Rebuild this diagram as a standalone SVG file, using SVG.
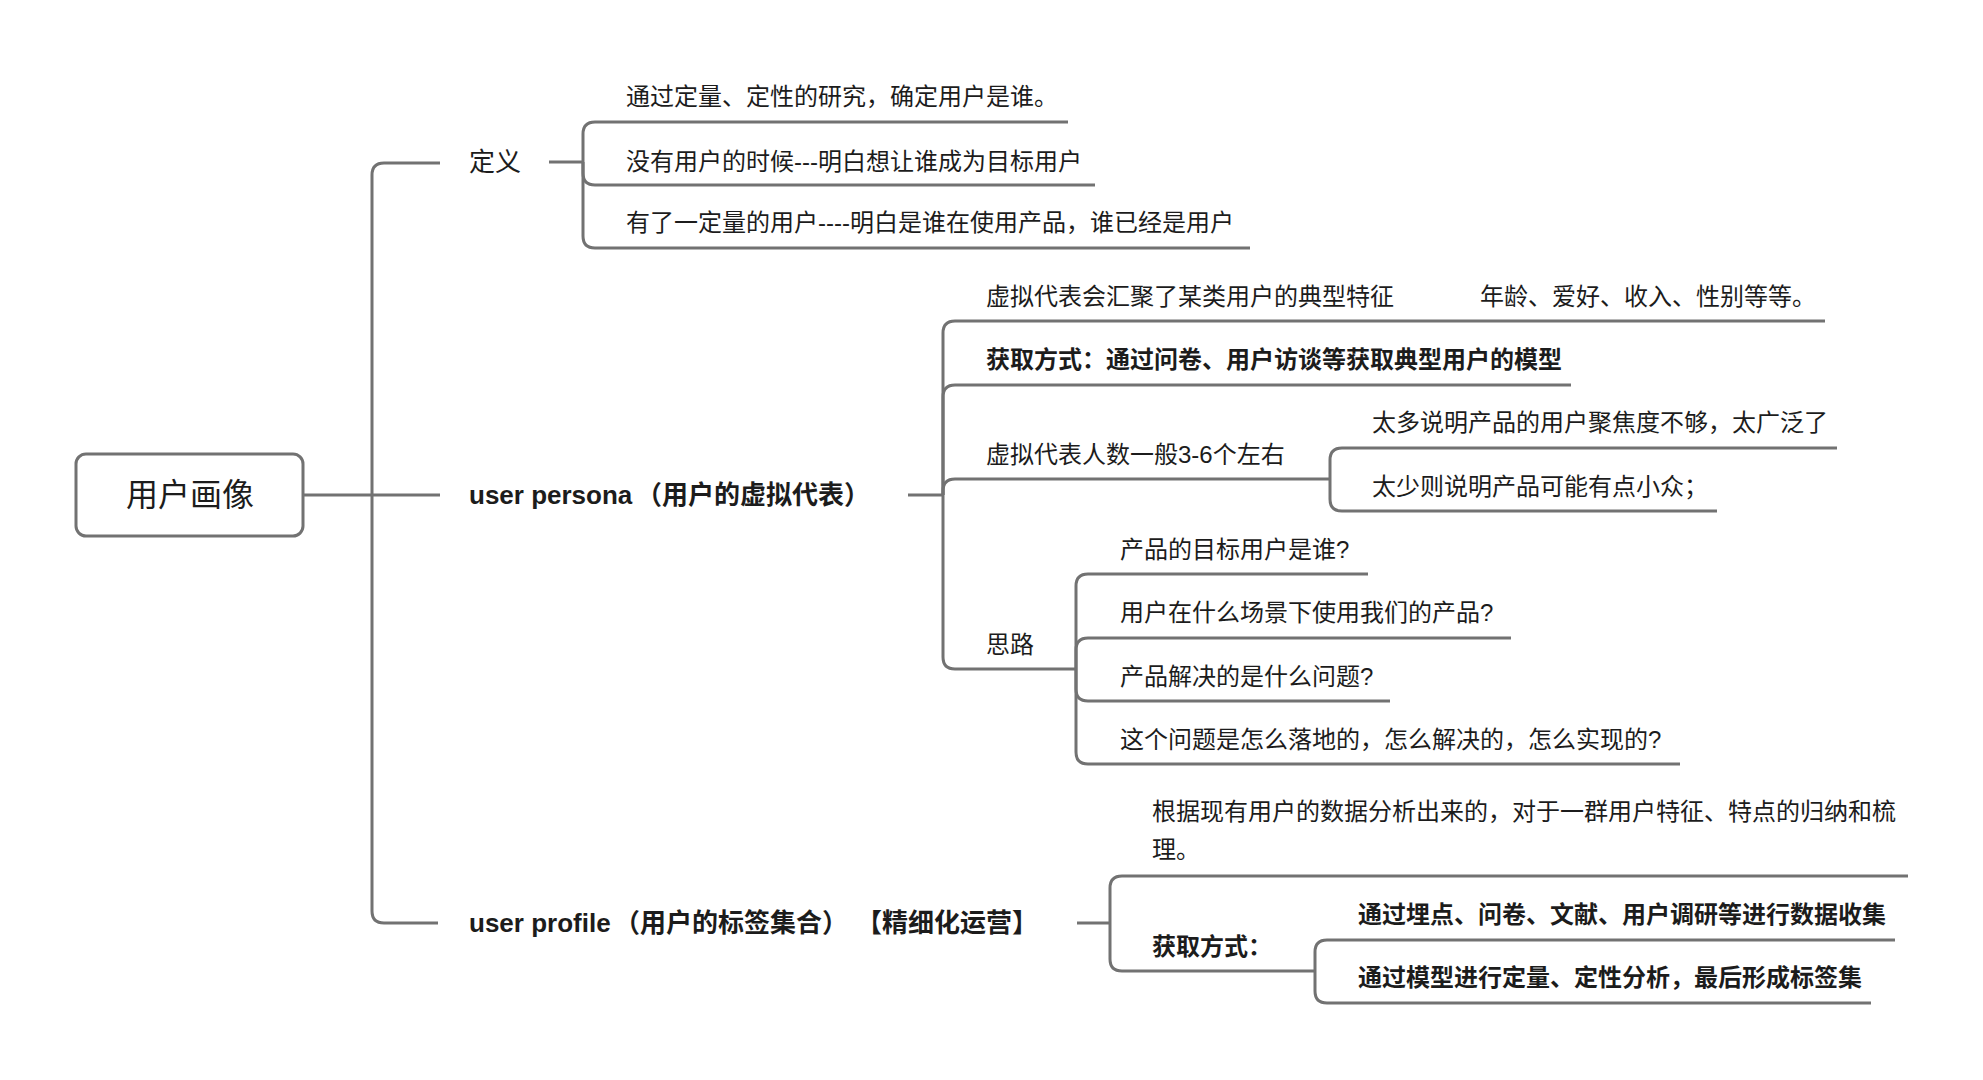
<svg xmlns="http://www.w3.org/2000/svg" width="1983" height="1080" viewBox="0 0 1983 1080">
<style>
.ln{fill:none;stroke:#727272;stroke-width:3;stroke-linecap:butt}
text{font-family:"Liberation Sans","Noto Sans CJK SC",sans-serif;fill:#1c1c1c;text-spacing-trim:space-all}
.t{font-size:24px}
.b{font-size:24px;font-weight:bold}
.l1{font-size:26px}
.l1b{font-size:26px;font-weight:bold}
.root{font-size:32px}
</style>
<rect width="1983" height="1080" fill="#ffffff"/>
<g id="connectors">
<path class="ln" d="M303,495 H440"/>
<path class="ln" d="M372,495 V175 Q372,163 384,163 H440"/>
<path class="ln" d="M372,495 V911 Q372,923 384,923 H438"/>
<path class="ln" d="M549,162 H583"/>
<path class="ln" d="M583,162 V134 Q583,122 595,122 H1068"/>
<path class="ln" d="M583,162 V173 Q583,185 595,185 H1095"/>
<path class="ln" d="M583,162 V236 Q583,248 595,248 H1250"/>
<path class="ln" d="M908,495 H943"/>
<path class="ln" d="M943,495 V333 Q943,321 955,321 H1825"/>
<path class="ln" d="M943,495 V397 Q943,385 955,385 H1571"/>
<path class="ln" d="M943,495 V491 Q943,479 955,479 H1330"/>
<path class="ln" d="M943,495 V657 Q943,669 955,669 H1076"/>
<path class="ln" d="M1330,479 V460 Q1330,448 1342,448 H1837"/>
<path class="ln" d="M1330,479 V499 Q1330,511 1342,511 H1717"/>
<path class="ln" d="M1076,669 V586 Q1076,574 1088,574 H1368"/>
<path class="ln" d="M1076,669 V650 Q1076,638 1088,638 H1511"/>
<path class="ln" d="M1076,669 V689 Q1076,701 1088,701 H1390"/>
<path class="ln" d="M1076,669 V752 Q1076,764 1088,764 H1680"/>
<path class="ln" d="M1077,923 H1110"/>
<path class="ln" d="M1110,923 V888 Q1110,876 1122,876 H1908"/>
<path class="ln" d="M1110,923 V959 Q1110,971 1122,971 H1315"/>
<path class="ln" d="M1315,971 V952 Q1315,940 1327,940 H1895"/>
<path class="ln" d="M1315,971 V991 Q1315,1003 1327,1003 H1871"/>
</g>
<g id="root">
<rect x="76" y="454" width="227" height="82" rx="10" fill="#ffffff" stroke="#727272" stroke-width="3"/>
<text class="root" x="190" y="506" text-anchor="middle">用户画像</text>
</g>
<g id="definition"><text class="l1" x="469" y="171">定义</text></g>
<g id="def1"><text class="t" x="626" y="105">通过定量、定性的研究，确定用户是谁。</text></g>
<g id="def2"><text class="t" x="626" y="170">没有用户的时候---明白想让谁成为目标用户</text></g>
<g id="def3"><text class="t" x="626" y="231">有了一定量的用户----明白是谁在使用产品，谁已经是用户</text></g>
<g id="persona"><text class="l1b" x="469" y="504"><tspan>user persona</tspan><tspan x="636">（用户的虚拟代表）</tspan></text></g>
<g id="p1"><text class="t" x="986" y="305"><tspan>虚拟代表会汇聚了某类用户的典型特征</tspan><tspan x="1480">年龄、爱好、收入、性别等等。</tspan></text></g>
<g id="p2"><text class="b" x="986" y="368">获取方式：通过问卷、用户访谈等获取典型用户的模型</text></g>
<g id="p3"><text class="t" x="986" y="463">虚拟代表人数一般3-6个左右</text></g>
<g id="p3a"><text class="t" x="1372" y="431">太多说明产品的用户聚焦度不够，太广泛了</text></g>
<g id="p3b"><text class="t" x="1372" y="495">太少则说明产品可能有点小众；</text></g>
<g id="p4"><text class="t" x="986" y="653">思路</text></g>
<g id="p4a"><text class="t" x="1120" y="558">产品的目标用户是谁?</text></g>
<g id="p4b"><text class="t" x="1120" y="621">用户在什么场景下使用我们的产品?</text></g>
<g id="p4c"><text class="t" x="1120" y="685">产品解决的是什么问题?</text></g>
<g id="p4d"><text class="t" x="1120" y="748">这个问题是怎么落地的，怎么解决的，怎么实现的?</text></g>
<g id="profile"><text class="l1b" x="469" y="932"><tspan>user profile</tspan><tspan x="614">（用户的标签集合）</tspan><tspan x="856">【精细化运营】</tspan></text></g>
<g id="u1"><text class="t" x="1152" y="820"><tspan>根据现有用户的数据分析出来的，对于一群用户特征、特点的归纳和梳</tspan><tspan x="1152" y="858">理。</tspan></text></g>
<g id="u2"><text class="b" x="1152" y="955">获取方式：</text></g>
<g id="u2a"><text class="b" x="1358" y="923">通过埋点、问卷、文献、用户调研等进行数据收集</text></g>
<g id="u2b"><text class="b" x="1358" y="986">通过模型进行定量、定性分析，最后形成标签集</text></g>
</svg>
